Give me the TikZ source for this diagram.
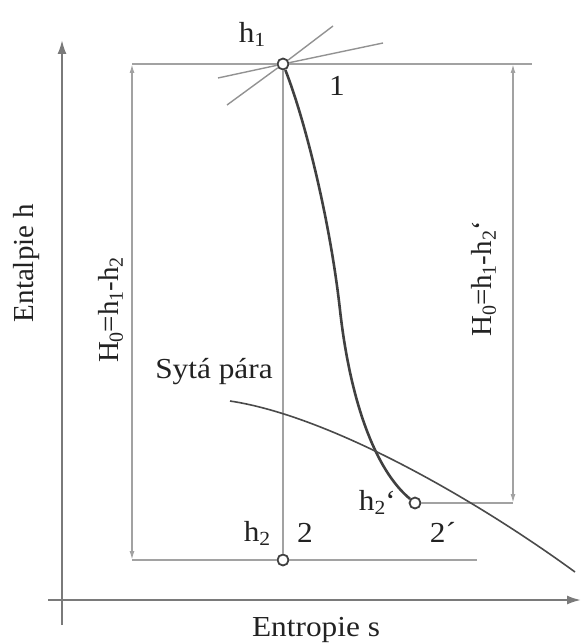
\documentclass[tikz,border=0pt]{standalone}
\usepackage{fontspec}
\setmainfont{Liberation Serif}
\usetikzlibrary{arrows.meta}
\definecolor{axisgray}{HTML}{7A7A7A}
\definecolor{dimgray}{HTML}{A2A2A2}
\definecolor{curvecol}{HTML}{404040}
\definecolor{satcol}{HTML}{4A4A4A}
\definecolor{txtcol}{HTML}{222222}
\newcommand\sbs[1]{\raisebox{-0.3ex}{\fontsize{20}{20}\selectfont #1}}
\newcommand\hst[1]{\scalebox{1.08}[1]{#1}}
\begin{document}
\begin{tikzpicture}[x=1pt,y=-1pt,
  axisline/.style={draw=axisgray, line width=2pt, -{Latex[length=14pt,width=9pt]}},
  dimline/.style={draw=dimgray, line width=1.5pt, {Latex[length=9pt,width=5pt]}-{Latex[length=9pt,width=5pt]}},
  guide/.style={draw=dimgray, line width=1.5pt},
  isoline/.style={draw=dimgray!90!black, line width=1.4pt},
  expline/.style={draw=curvecol, line width=2.6pt},
  satline/.style={draw=satcol, line width=1.6pt},
  ptnode/.style={circle, draw=curvecol, line width=1.8pt, fill=white, minimum size=11pt, inner sep=0pt},
  lbl/.style={font=\fontsize{29}{34}\selectfont, text=txtcol, inner sep=0pt}]
\useasboundingbox (0,0) rectangle (582,644);

% state points
\node[ptnode] (p1) at (283,64) {};
\node[ptnode] (p2) at (283,560) {};
\node[ptnode] (p2s) at (415,503) {};

% axes
\coordinate (vb) at (62,625);
\coordinate (vt) at (62,40);
\coordinate (hl) at (48,600);
\coordinate (hr) at (581,600);
\draw[axisline] (vb) -- (vt);
\draw[axisline] (hl) -- (hr);

% guide lines
\coordinate (tl) at (132,64);
\coordinate (tr) at (532,64);
\coordinate (bl) at (132,560);
\coordinate (br) at (477,560);
\coordinate (rt) at (513,64);
\coordinate (rb) at (513,503);
\draw[guide] (tl) -- (p1);
\draw[guide] (p1) -- (tr);
\draw[guide] (bl) -- (p2);
\draw[guide] (p2) -- (br);
\draw[guide] (p2s) -- (rb);
\draw[guide] (p1) -- (p2);
\draw[dimline] (tl) -- (bl);
\draw[dimline] (rt) -- (rb);

% isolines through point 1
\coordinate (ia1) at (218,78);
\coordinate (ia2) at (383,43);
\coordinate (ib1) at (227,105);
\coordinate (ib2) at (333,26);
\draw[isoline] (ia1) -- (p1);
\draw[isoline] (p1) -- (ia2);
\draw[isoline] (ib1) -- (p1);
\draw[isoline] (p1) -- (ib2);

% expansion curve
\draw[expline] (p1) .. controls (305,120) and (330,220) .. (340,310)
  .. controls (350,400) and (375,470) .. (p2s);

% saturated vapour curve
\coordinate (s0) at (230,401);
\coordinate (s1) at (575,572);
\draw[satline] (s0) .. controls (330,416) and (475,499) .. (s1);

% labels
\node[lbl] (lh1) at (252,34) {\hst{h\sbs{1}}};
\node[lbl] (l1) at (337,86) {\hst{1}};
\node[lbl] (lh2) at (257,533) {\hst{h\sbs{2}}};
\node[lbl] (l2) at (305,533) {\hst{2}};
\node[lbl, anchor=east] (lh2s) at (396,502) {\hst{h\sbs{2}‘}};
\node[lbl] (l2s) at (443,532) {\hst{2´}};
\node[lbl] (lsat) at (214,372) {\hst{Sytá pára}};
\node[lbl] (lent) at (316,630) {\hst{Entropie s}};
\node[lbl, rotate=90] (lenth) at (27,263) {Entalpie h};
\node[lbl, rotate=90] (lH0) at (111,310) {H\sbs{0}=h\sbs{1}-h\sbs{2}};
\node[lbl, rotate=90] (lH0s) at (484,279) {H\sbs{0}=h\sbs{1}-h\sbs{2}‘};
\end{tikzpicture}
\end{document}
